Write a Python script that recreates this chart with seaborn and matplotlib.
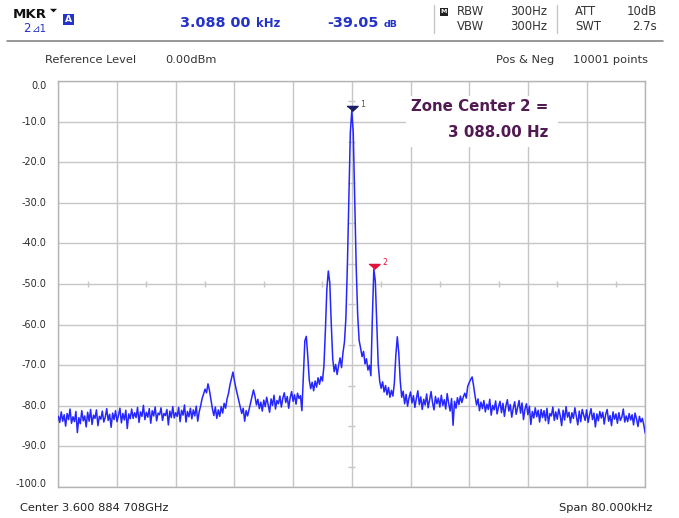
import numpy as np
import matplotlib
matplotlib.use("Agg")
import matplotlib.pyplot as plt
import matplotlib.transforms as mtransforms
from matplotlib.patches import Rectangle, Polygon
from matplotlib.lines import Line2D
import seaborn as sns

# ---------------------------------------------------------------- data
span_start_khz = -40.0
span_stop_khz = 40.0

# displayed trace, 0.2 kHz per sweep point (dBm)
trace_db = [
    -82.6, -84.1, -81.5, -83.8, -82.2, -85.0, -81.9, -83.4, -80.8, -84.3,   # -40 kHz
    -82.7, -83.9, -81.4, -86.6, -82.9, -84.4, -81.2, -83.7, -82.5, -85.2,   # -38
    -81.6, -83.8, -80.9, -84.6, -82.3, -83.1, -81.0, -84.9, -82.6, -83.3,   # -36
    -81.3, -84.0, -82.8, -80.7, -83.6, -82.1, -85.3, -81.8, -83.4, -81.2,   # -34
    -83.9, -82.4, -80.6, -84.2, -81.9, -83.5, -81.1, -85.6, -82.0, -83.2,   # -32
    -80.8, -83.1, -81.7, -82.9, -80.4, -84.1, -81.5, -82.6, -79.9, -83.4,   # -30
    -81.6, -82.8, -80.7, -84.3, -81.2, -82.5, -80.3, -83.7, -81.8, -82.2,   # -28
    -80.5, -83.6, -81.9, -82.4, -80.9, -84.7, -81.3, -82.9, -80.2, -83.0,   # -26
    -81.7, -82.6, -80.4, -83.9, -81.1, -82.3, -79.8, -84.0, -81.4, -82.7,   # -24
    -80.6, -83.2, -81.0, -82.5, -80.1, -83.8, -81.5, -80.0, -78.2, -77.1,   # -22
    -75.9, -76.8, -74.6, -76.2, -78.5, -80.7, -82.4, -80.3, -83.1, -81.0,   # -20
    -82.6, -80.2, -81.8, -79.4, -80.6, -78.3, -76.9, -74.8, -73.2, -71.7,   # -18
    -73.8, -75.6, -77.2, -78.9, -80.4, -81.9, -80.6, -83.8, -81.2, -82.5,   # -16
    -80.9, -79.3, -77.8, -76.1, -77.6, -79.8, -78.4, -80.7, -79.1, -81.3,   # -14
    -78.6, -80.2, -77.9, -79.7, -81.6, -78.3, -79.9, -77.4, -80.8, -78.7,   # -12
    -79.5, -77.6, -80.3, -78.1, -76.8, -79.2, -77.7, -80.6, -78.0, -76.5,   # -10
    -78.9, -77.3, -79.6, -76.9, -78.2, -77.5, -81.2, -72.5, -64.0, -62.9,   # -8
    -67.8, -73.6, -75.8, -74.2, -76.3, -73.9, -75.4, -73.1, -74.7, -72.8,   # -6
    -73.9, -70.2, -61.5, -51.2, -46.8, -49.7, -59.8, -68.4, -71.6, -69.8,   # -4
    -72.3, -70.1, -68.2, -70.6, -66.9, -64.3, -58.2, -45.3, -28.4, -12.6,   # -2
    -7.3, -12.8, -28.9, -45.8, -57.6, -63.9, -65.8, -67.9, -66.6, -69.7,    # 0
    -68.4, -71.2, -70.0, -72.6, -58.4, -46.35, -49.2, -59.6, -69.8, -73.9,  # 2
    -75.7, -74.1, -76.6, -75.0, -77.3, -75.5, -77.9, -76.2, -77.6, -74.4,   # 4
    -67.6, -63.0, -66.9, -73.8, -77.9, -76.4, -79.5, -77.2, -80.1, -78.0,   # 6
    -76.6, -79.3, -77.5, -80.4, -78.2, -76.3, -79.7, -77.8, -80.9, -78.4,   # 8
    -79.8, -77.1, -80.5, -78.6, -76.5, -79.2, -81.0, -77.7, -79.5, -78.1,   # 10
    -80.3, -77.4, -79.9, -78.5, -80.8, -77.0, -79.4, -81.3, -78.2, -84.8,   # 12
    -78.9, -80.6, -78.0, -79.7, -77.6, -79.2, -77.8, -76.9, -78.1, -75.2,   # 14
    -74.3, -73.5, -72.9, -75.1, -77.6, -79.8, -78.3, -81.2, -79.1, -80.7,   # 16
    -78.7, -81.5, -79.6, -80.9, -78.4, -82.3, -79.9, -81.0, -78.8, -82.0,   # 18
    -80.2, -78.9, -81.7, -79.4, -82.6, -80.0, -78.5, -81.3, -79.7, -82.8,   # 20
    -80.6, -79.0, -82.1, -80.4, -78.7, -81.8, -79.3, -83.4, -80.8, -79.5,   # 22
    -82.2, -80.1, -84.6, -81.4, -83.0, -80.5, -82.7, -81.1, -84.0, -80.9,   # 24
    -82.9, -81.2, -83.7, -80.6, -84.4, -81.9, -82.5, -80.3, -83.6, -81.5,   # 26
    -83.3, -80.8, -82.4, -84.9, -81.1, -83.5, -80.2, -82.8, -81.6, -84.2,   # 28
    -81.7, -83.1, -80.5, -82.6, -84.7, -81.3, -83.9, -80.9, -82.2, -83.6,   # 30
    -81.0, -84.1, -82.3, -80.7, -83.4, -81.8, -85.2, -82.0, -83.7, -81.4,   # 32
    -83.0, -81.6, -84.5, -82.1, -80.9, -83.8, -82.4, -84.9, -81.5, -83.3,   # 34
    -82.0, -84.3, -81.7, -83.6, -82.8, -80.8, -84.0, -82.5, -83.9, -81.9,   # 36
    -83.5, -82.2, -84.7, -81.8, -83.2, -85.1, -82.6, -84.0, -83.1, -84.8,   # 38
    -86.8,                                                                  # 40
]
freq_khz = np.linspace(span_start_khz, span_stop_khz, len(trace_db))

# markers: M1 on the carrier, M2 as a delta marker
marker1_khz = 0.0
marker1_db = -7.3
delta_khz = 3.088
delta_db = -39.05
marker_khz = [marker1_khz, marker1_khz + delta_khz]
marker_db = [marker1_db, marker1_db + delta_db]
marker_names = ["1", "2"]

y_ticks = [0, -10, -20, -30, -40, -50, -60, -70, -80, -90, -100]
y_tick_labels = ["0.0", "-10.0", "-20.0", "-30.0", "-40.0", "-50.0",
                 "-60.0", "-70.0", "-80.0", "-90.0", "-100.0"]
x_div_khz = 8.0

# ---------------------------------------------------------------- style
sns.set_theme(style="white")
plt.rcParams["font.family"] = ["DejaVu Sans", "Noto Sans CJK JP"]

W, H = 679, 518
fig = plt.figure(figsize=(W / 100, H / 100), dpi=100)
fig.patch.set_facecolor("white")


def fx(px):
    return px / W


def fy(py):
    return 1 - py / H


BLUE = "#2433c8"
TRACE = "#2626ff"
GRID = "#c6c6c6"
TXT = "#333333"

# ---------------------------------------------------------------- axes
left, right, top, bottom = 58.3, 645.3, 81.0, 487.0
ax = fig.add_axes([fx(left), fy(bottom), (right - left) / W, (bottom - top) / H])
ax.set_facecolor("white")

sns.lineplot(x=freq_khz, y=trace_db, ax=ax, color=TRACE, linewidth=1.1,
             estimator=None, sort=False, zorder=3)

ax.set_xlim(span_start_khz, span_stop_khz)
ax.set_ylim(y_ticks[-1], y_ticks[0])
ax.set_xticks(np.arange(span_start_khz, span_stop_khz + 0.1, x_div_khz))
ax.set_yticks(y_ticks)
ax.tick_params(axis="both", length=0, labelbottom=False, labelleft=False)
ax.set_xlabel("")
ax.set_ylabel("")
ax.set_axisbelow(True)
ax.grid(True, color=GRID, linewidth=1.0)
for sp in ax.spines.values():
    sp.set_color("#b4b4b4")
    sp.set_linewidth(1.0)

# graticule sub-division ticks on the centre cross
half = x_div_khz / 2
ax.hlines(np.arange(-95, 0, 10), -0.45, 0.45, colors=GRID, linewidth=1.0, zorder=1)
ax.vlines(np.arange(span_start_khz + half, span_stop_khz, x_div_khz), -50.82, -49.18,
          colors=GRID, linewidth=1.0, zorder=1)

# level scale labels
ylab_tr = mtransforms.blended_transform_factory(ax.transAxes, ax.transData)
px_per_db = (bottom - top) / 100.0
for v, lab in zip(y_ticks, y_tick_labels):
    shift = 0.0
    if v == y_ticks[0]:
        shift = -5.0 / px_per_db
    elif v == y_ticks[-1]:
        shift = 3.0 / px_per_db
    ax.text(-12.0 / (right - left), v + shift, lab, transform=ylab_tr,
            ha="right", va="center", fontsize=6.9, color="#2a2a2a")

# markers (flat downward triangles with the tip on the trace)
tri = [(-5.5, 5.0), (5.5, 5.0), (0.0, 0.0)]
mk_colors = ["#1d1d66", "#e0143c"]
lab_colors = ["#555555", "#e0143c"]
for f, d, name, mc, lc in zip(marker_khz, marker_db, marker_names, mk_colors, lab_colors):
    ax.plot([f], [d], marker=tri, markersize=8, color=mc, linestyle="none", zorder=5)
    ax.annotate(name, xy=(f, d), xytext=(8, 4), textcoords="offset pixels",
                ha="left", va="baseline", fontsize=5.6, color=lc, zorder=6)

# zone centre readout
fig.add_artist(Rectangle((fx(406), fy(147)), 152 / W, 51 / H, transform=fig.transFigure,
                         facecolor="white", edgecolor="none", zorder=2))
zone_hz = delta_khz * 1000
zone_str = f"{zone_hz:,.2f}".replace(",", " ")
fig.text(fx(548), fy(110.7), "Zone Center 2 =", ha="right", va="baseline",
         fontsize=10.8, fontweight="bold", color="#521a52", zorder=3)
fig.text(fx(548), fy(137.3), f"{zone_str} Hz", ha="right", va="baseline",
         fontsize=10.8, fontweight="bold", color="#521a52", zorder=3)

# ---------------------------------------------------------------- header
fig.text(fx(13), fy(18), "MKR", ha="left", va="baseline", fontsize=9.6,
         fontweight="bold", color="#111111")
fig.add_artist(Polygon([(fx(50), fy(8.8)), (fx(57), fy(8.8)), (fx(53.5), fy(12.4))],
                       closed=True, transform=fig.transFigure, facecolor="#111111",
                       edgecolor="none"))
fig.text(fx(22.7), fy(32.3), "2", ha="left", va="baseline", fontsize=8.6, color=BLUE)
fig.text(fx(32), fy(32.3), "\u22bf1", ha="left", va="baseline", fontsize=7.4, color=BLUE,
         family=["DejaVu Sans", "Noto Sans CJK JP"])
fig.add_artist(Rectangle((fx(62.7), fy(25)), 11.3 / W, 11 / H, transform=fig.transFigure,
                         facecolor=BLUE, edgecolor="none"))
fig.text(fx(68.4), fy(19.6), "A", ha="center", va="center", fontsize=6.6,
         fontweight="bold", color="white")

fig.text(fx(180), fy(26.7), f"{delta_khz:.3f} 00", ha="left", va="baseline",
         fontsize=10.4, fontweight="bold", color=BLUE)
fig.text(fx(280), fy(26.7), "kHz", ha="right", va="baseline",
         fontsize=8.4, fontweight="bold", color=BLUE)
fig.text(fx(327), fy(26.7), f"{delta_db:.2f}", ha="left", va="baseline",
         fontsize=10.4, fontweight="bold", color=BLUE)
fig.text(fx(398), fy(26.7), "dB", ha="right", va="baseline",
         fontsize=6.8, fontweight="bold", color=BLUE)

for xs in (434, 557):
    fig.add_artist(Line2D([fx(xs), fx(xs)], [fy(5), fy(33)], transform=fig.transFigure,
                          color="#c8c8c8", linewidth=1.0))
fig.add_artist(Rectangle((fx(440), fy(15.5)), 7.5 / W, 7.5 / H, transform=fig.transFigure,
                         facecolor="#222222", edgecolor="none"))
fig.text(fx(443.8), fy(11.8), "M", ha="center", va="center", fontsize=4.6,
         fontweight="bold", color="white")

hdr = dict(va="baseline", fontsize=8.4, color=TXT)
fig.text(fx(484), fy(15), "RBW", ha="right", **hdr)
fig.text(fx(484), fy(30), "VBW", ha="right", **hdr)
fig.text(fx(547), fy(15), "300Hz", ha="right", **hdr)
fig.text(fx(547), fy(30), "300Hz", ha="right", **hdr)
fig.text(fx(575), fy(15), "ATT", ha="left", **hdr)
fig.text(fx(575), fy(30), "SWT", ha="left", **hdr)
fig.text(fx(657), fy(15), "10dB", ha="right", **hdr)
fig.text(fx(657), fy(30), "2.7s", ha="right", **hdr)

fig.add_artist(Line2D([fx(6.7), fx(663)], [fy(40.7), fy(40.7)], transform=fig.transFigure,
                      color="#7a7a7a", linewidth=1.1))

sub = dict(va="baseline", fontsize=8.2, color=TXT)
fig.text(fx(45), fy(63.3), "Reference Level", ha="left", **sub)
fig.text(fx(165), fy(63.3), "0.00dBm", ha="left", **sub)
fig.text(fx(496), fy(63.3), "Pos & Neg", ha="left", **sub)
fig.text(fx(648), fy(63.3), "10001 points", ha="right", **sub)

# ---------------------------------------------------------------- footer
fig.text(fx(20), fy(511), "Center 3.600 884 708GHz", ha="left", va="baseline",
         fontsize=8.2, color="#222222")
fig.text(fx(652), fy(511), "Span 80.000kHz", ha="right", va="baseline",
         fontsize=8.2, color="#222222")

fig.savefig("out.png", dpi=100, facecolor="white")
